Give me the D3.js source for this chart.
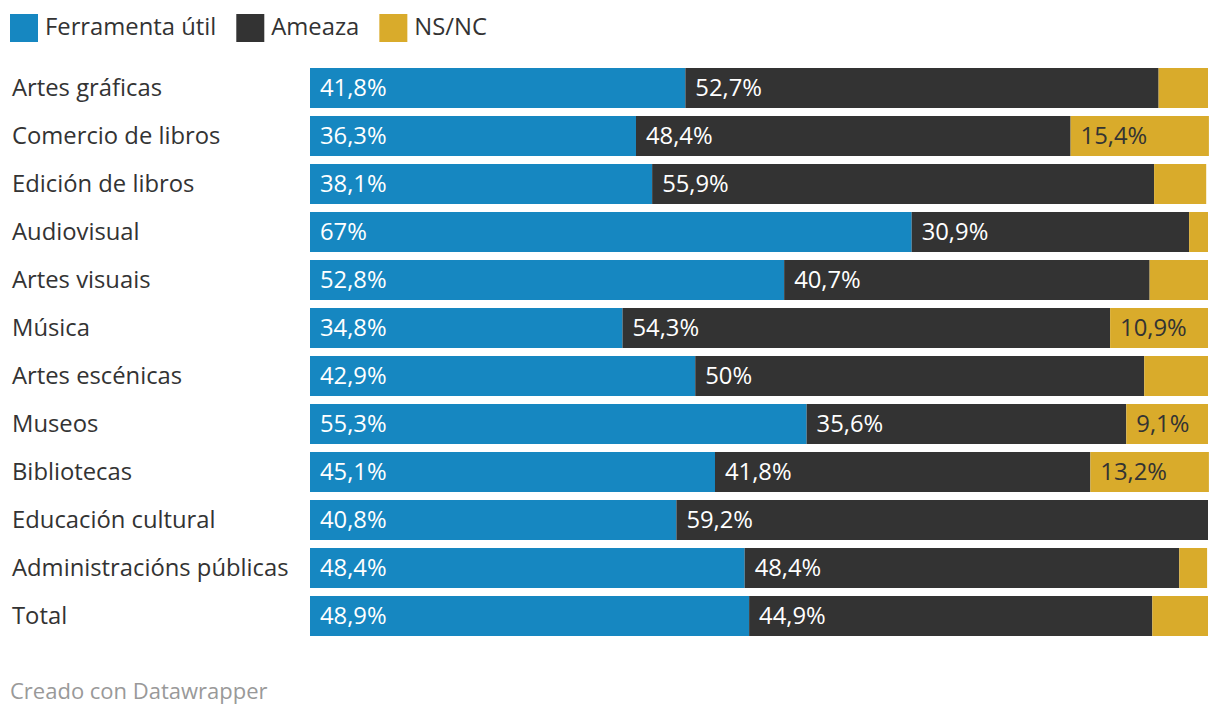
<!DOCTYPE html>
<html><head><meta charset="utf-8">
<script src="https://cdn.jsdelivr.net/npm/d3@7"></script>
<style>
body{margin:0;background:#fff;}
text{font-family:"Open Sans",sans-serif;}
</style></head><body>
<svg id="c" width="1220" height="718"></svg>
<script>
const categories=["Artes gráficas","Comercio de libros","Edición de libros","Audiovisual","Artes visuais","Música","Artes escénicas","Museos","Bibliotecas","Educación cultural","Administracións públicas","Total"];
const ferramenta=[41.8,36.3,38.1,67,52.8,34.8,42.9,55.3,45.1,40.8,48.4,48.9];
const ameaza=[52.7,48.4,55.9,30.9,40.7,54.3,50,35.6,41.8,59.2,48.4,44.9];
const nsnc=[5.5,15.4,5.8,2.1,6.5,10.9,7.1,9.1,13.2,0,3.1,6.2];
const showNsnc=[false,true,false,false,false,true,false,true,true,false,false,false];
const seriesNames=["Ferramenta útil","Ameaza","NS/NC"];
const colors=["#1687c1","#333333","#d9ab2b"];
const textColors=["#ffffff","#ffffff","#333333"];

const svg=d3.select("#c");
const x=d3.scaleLinear().domain([0,100]).range([310,1208]);
const y2=d3.scaleBand().domain(categories).range([64,640]).paddingInner(8/48).paddingOuter(4/48);

const fmt=v=>String(v).replace(".",",")+"%";
const data=categories.map((c,i)=>({cat:c,vals:[ferramenta[i],ameaza[i],nsnc[i]],show:[true,true,showNsnc[i]]}));

const FS=23.8;
// legend
const lg=svg.append("g");
let lx=10;
seriesNames.forEach((n,i)=>{
  lg.append("rect").attr("x",lx).attr("y",14).attr("width",28).attr("height",28).attr("fill",colors[i]);
  const t=lg.append("text").attr("x",lx+35).attr("y",35).attr("font-size",FS).attr("fill","#333").text(n);
  lx+=35+t.node().getComputedTextLength()+20;
});

// row labels
svg.append("g").selectAll("text").data(categories).join("text")
  .attr("x",12).attr("y",d=>y2(d)+y2.bandwidth()/2+8).attr("font-size",FS).attr("fill","#333").text(d=>d);

const rows=svg.append("g").selectAll("g").data(data).join("g");
rows.each(function(d){
  const g=d3.select(this);
  let acc=0;
  d.vals.forEach((v,j)=>{
    if(v<=0){return;}
    const x0=x(acc), x1=x(acc+v);
    g.append("rect").attr("x",x0).attr("y",y2(d.cat)).attr("width",x1-x0).attr("height",y2.bandwidth()).attr("fill",colors[j]);
    if(d.show[j]){
      g.append("text").attr("x",x0+10).attr("y",y2(d.cat)+y2.bandwidth()/2+8).attr("font-size",FS).attr("fill",textColors[j]).text(fmt(v));
    }
    acc+=v;
  });
});

svg.append("text").attr("x",10).attr("y",699).attr("font-size",22).attr("fill","#999").text("Creado con Datawrapper");
</script>
</body></html>
